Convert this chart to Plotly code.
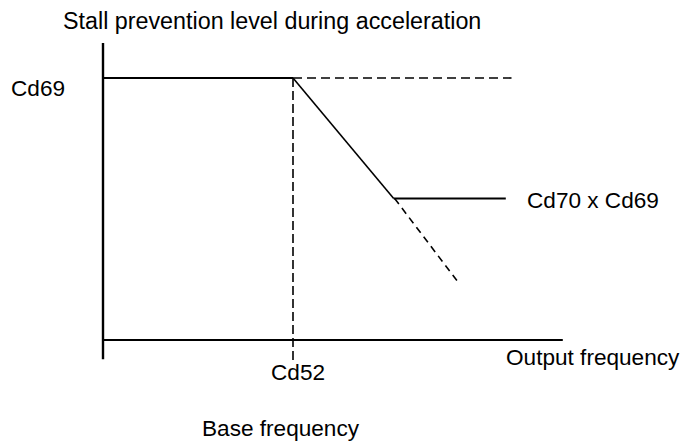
import plotly.graph_objects as go

# Stall prevention level (relative to Cd69) versus output frequency (relative to base frequency Cd52)
base_freq = 1.0          # Cd52
cd69_level = 1.0         # Cd69
cd70_level = 0.54        # Cd70 x Cd69

# Axes of the diagram
axis_freq = [0.0, 2.42]
axis_level = [-0.073, 1.134]

# Constant limit up to base frequency
flat_freq = [0.0, base_freq]
flat_level = [cd69_level, cd69_level]

# Decreasing limit above base frequency
decline_freq = [base_freq, 1.53]
decline_level = [cd69_level, cd70_level]

# Lower clamp at Cd70 x Cd69
clamp_freq = [1.53, 2.12]
clamp_level = [cd70_level, cd70_level]

# Dashed guides
ref_freq = [base_freq, 2.15]
ref_level = [cd69_level, cd69_level]
ext_freq = [1.535, 1.875]
ext_level = [cd70_level, 0.215]
base_guide_freq = [base_freq, base_freq]
base_guide_level = [cd69_level, -0.076]

FONT = "Liberation Sans, Arial, Helvetica, sans-serif"
BLACK = "#000000"

fig = go.Figure()

def seg(xs, ys, width=1.6, dash="solid"):
    fig.add_trace(go.Scatter(x=xs, y=ys, mode="lines", hoverinfo="skip",
                             line=dict(color=BLACK, width=width, dash=dash)))

# axes
seg([0, 0], axis_level, width=2.4)
seg(axis_freq, [0, 0], width=2.0)

# characteristic
seg(flat_freq, flat_level, width=1.8)
seg(decline_freq, decline_level, width=1.6)
seg(clamp_freq, clamp_level, width=1.8)

# dashed guides
seg(ref_freq, ref_level, width=1.6, dash="9px,5px")
seg(ext_freq, ext_level, width=1.6, dash="7px,5px")
seg(base_guide_freq, base_guide_level, width=1.6, dash="9px,4px")

font = dict(family=FONT, size=22.6, color=BLACK)
annotations = [
    dict(x=61 / 685, y=1 - 21 / 445, xref="paper", yref="paper",
         text="Stall prevention level during acceleration",
         xanchor="left", yanchor="middle", showarrow=False,
         font=dict(family=FONT, size=23.3, color=BLACK)),
    dict(x=0, y=cd69_level, text="Cd69", xanchor="right", yanchor="middle",
         showarrow=False, xshift=-36, yshift=-10),
    dict(x=clamp_freq[1], y=cd70_level, text="Cd70 x Cd69", xanchor="left", yanchor="middle",
         showarrow=False, xshift=19, yshift=-2),
    dict(x=axis_freq[1], y=0, text="Output frequency", xanchor="left", yanchor="middle",
         showarrow=False, xshift=-59, yshift=-17),
    dict(x=base_freq, y=0, text="Cd52", xanchor="center", yanchor="middle",
         showarrow=False, xshift=5, yshift=-32),
    dict(x=base_freq, y=0, text="Base frequency", xanchor="center", yanchor="middle",
         showarrow=False, xshift=-12, yshift=-88),
]
for a in annotations:
    a.setdefault("xref", "x")
    a.setdefault("yref", "y")
    a.setdefault("font", font)

fig.update_layout(
    width=685, height=445,
    margin=dict(l=0, r=0, t=0, b=0),
    paper_bgcolor="white", plot_bgcolor="white",
    showlegend=False,
    xaxis=dict(range=[-103 / 190, 582 / 190], visible=False, fixedrange=True),
    yaxis=dict(range=[-105 / 262, 340 / 262], visible=False, fixedrange=True),
    annotations=annotations,
)

fig.write_html("out.html")
